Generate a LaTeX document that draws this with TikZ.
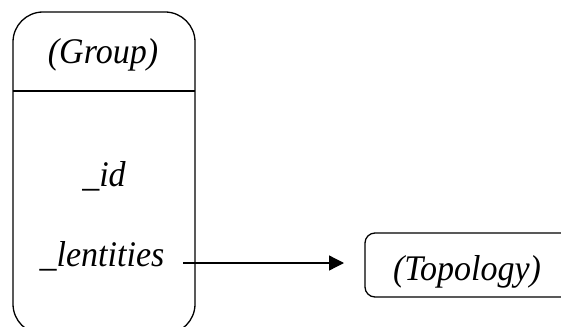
\documentclass[tikz,border=0pt]{standalone}
\usepackage{fontspec}
\setmainfont{Liberation Serif}
\usetikzlibrary{arrows.meta}
\newcommand{\tallify}[1]{\scalebox{1}[1.06]{#1}}
\begin{document}
\begin{tikzpicture}[x=1pt,y=-1pt,
  boxline/.style={draw=black,line width=1.3pt},
  lbl/.style={font=\fontsize{34}{38}\selectfont\itshape,inner sep=0pt,anchor=base}]
\useasboundingbox (0,0) rectangle (561,326);
\begin{scope}
\clip (0,0) rectangle (561,326);
\draw[boxline,rounded corners=30pt] (13,12) rectangle (195,334);
\draw[boxline] (13,91) -- (195,91);
\draw[boxline,rounded corners=10pt] (365,233) rectangle (600,297);
\end{scope}
\node[lbl] (group) at (103,64) {\tallify{(Group)}};
\node[lbl] (id) at (104,186) {\tallify{\_id}};
\node[lbl] (lent) at (102,266) {\tallify{\_lentities}};
\node[lbl] (topo) at (467,280) {\tallify{(Topology)}};
\coordinate (s) at (183,263);
\coordinate (t) at (344,263);
\draw[line width=1.3pt,-{Triangle[length=15pt,width=15pt]}] (s) -- (t);
\end{tikzpicture}
\end{document}
